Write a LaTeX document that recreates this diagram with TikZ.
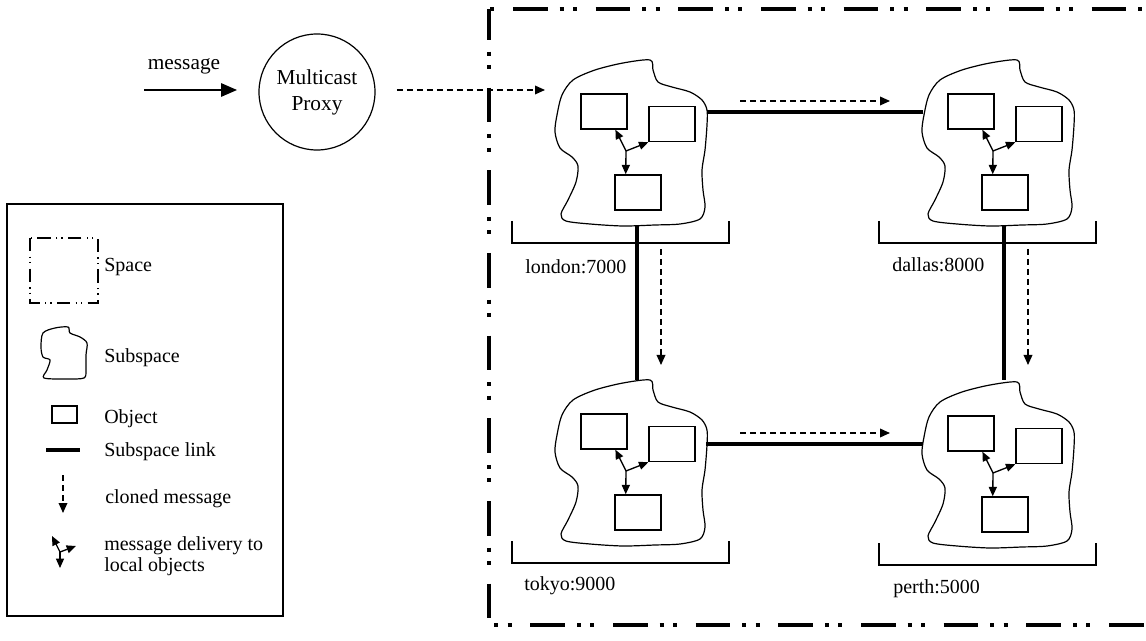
\documentclass[tikz,border=0pt]{standalone}
\usepackage{fontspec}
\setmainfont{Liberation Serif}
\usetikzlibrary{arrows.meta}
\newcommand\subsp[2]{%
\begin{scope}[shift={#2}]
  \draw[blobline] plot[smooth cycle, tension=0.5] coordinates {
    (650,60) (623,63) (595,70) (573,80) (562,95) (557,115) (555,132) (560,148)
    (572,157) (578,166) (576,182) (568,200) (561,214) (566,221) (590,224)
    (623,226) (655,225) (680,224) (700,219) (705,207) (703,190) (702,170)
    (705,150) (707,125) (707,110) (702,100) (690,92) (672,87) (658,82) (653,70)};
  \node[objbox] (#1a) at (604,111.5) {};
  \node[objbox] (#1b) at (672,124) {};
  \node[objbox] (#1c) at (638,192.5) {};
  \coordinate (#1j) at (626,151);
  \draw[deliver] (#1j) -- (#1a.-58);
  \draw[deliver] (#1j) -- (#1b.south west);
  \draw[deliver] (#1j) -- (#1c.124);
  \draw[bracket] (512,221) -- (512,243) -- (729,243) -- (729,221);
\end{scope}}
\begin{document}
\begin{tikzpicture}[x=0.75pt,y=-0.75pt,
  every node/.style={font=\fontsize{15}{18}\selectfont},
  spaceline/.style={line width=3.4pt, dash pattern=on 26pt off 9pt on 3pt off 7pt on 3pt off 14pt},
  iconspace/.style={line width=0.9pt, dash pattern=on 10pt off 4pt on 1pt off 3pt on 1pt off 4pt},
  blobline/.style={line width=0.9pt},
  bracket/.style={line width=1pt},
  objbox/.style={draw, line width=1.1pt, minimum width=34.5pt, minimum height=26.25pt, inner sep=0pt},
  sublink/.style={line width=2.7pt},
  clonearrow/.style={line width=1pt, dash pattern=on 4.5pt off 3pt, -{Triangle[length=7.5pt,width=6.5pt]}},
  deliver/.style={line width=1pt, -{Triangle[length=7pt,width=6pt]}},
  lbl/.style={anchor=west, inner sep=0pt},
]
\useasboundingbox (0,0) rectangle (1146,641);

% space border
\begin{scope}
  \clip (0,0) rectangle (1146,641);
  \draw[spaceline, dash phase=44pt] (489,9) -- (1170,9);
  \draw[spaceline, dash phase=3pt] (489,9) -- (489,625) -- (1170,625);
\end{scope}

% message + proxy
\node (msg) at (184,66) {\fontsize{16}{18}\selectfont message};
\coordinate (msgstart) at (144,90);
\node[circle, draw, line width=0.9pt, minimum size=87pt, inner sep=0pt,
      align=center, font=\fontsize{16}{19.5}\selectfont] (proxy) at (317,92) {Multicast\\Proxy};
\draw[line width=1.4pt, -{Triangle[length=12pt,width=10pt]}, shorten >=16pt] (msgstart) -- (proxy.west |- msgstart);
\coordinate (proxyout) at (545,90);
\draw[clonearrow, shorten <=16pt] (proxy.east |- proxyout) -- (proxyout);

% subspaces
\subsp{L}{(0,0)}
\subsp{D}{(367,0)}
\subsp{T}{(0,320)}
\subsp{P}{(367,322)}

% labels
\node[lbl] (Llbl) at (525,267) {london:7000};
\node[lbl] (Dlbl) at (892,265) {dallas:8000};
\node[lbl] (Tlbl) at (524,586) {tokyo:9000};
\node[lbl] (Plbl) at (893,589) {perth:5000};

% subspace links
\coordinate (Lr) at (707,112);
\coordinate (Dl) at (923,112);
\coordinate (Tr) at (706,444);
\coordinate (Pl) at (923,444);
\coordinate (Lbot) at (637,225);
\coordinate (Ttop) at (637,380);
\coordinate (Dbot) at (1004,225);
\coordinate (Ptop) at (1004,380);
\draw[sublink] (Lr) -- (Dl);
\draw[sublink] (Tr) -- (Pl);
\draw[sublink] (Lbot) -- (Ttop);
\draw[sublink] (Dbot) -- (Ptop);

% cloned messages
\coordinate (c1s) at (740,101); \coordinate (c1e) at (890,101);
\coordinate (c2s) at (740,433); \coordinate (c2e) at (890,433);
\coordinate (c3s) at (661,249); \coordinate (c3e) at (661,365);
\coordinate (c4s) at (1028,249); \coordinate (c4e) at (1028,365);
\draw[clonearrow] (c1s) -- (c1e);
\draw[clonearrow] (c2s) -- (c2e);
\draw[clonearrow] (c3s) -- (c3e);
\draw[clonearrow] (c4s) -- (c4e);

% legend
\draw[line width=1.1pt] (7,204) rectangle (283,616);
\draw[iconspace] (30,238) rectangle (98,303);
\node[lbl] (lgspace) at (104,267) {Space};
\draw[blobline] plot[smooth cycle, tension=0.5] coordinates {
  (43,333) (55,328) (68,327) (70,333) (80,337) (87,343) (86,355) (86,370)
  (84,378) (67,379) (44,378) (47,370) (50,360) (43,357) (41,347)};
\node[lbl] (lgsub) at (104,358) {Subspace};
\node[draw, line width=1.1pt, minimum width=18.75pt, minimum height=12.75pt, inner sep=0pt] (lgobjbox) at (64.5,414.5) {};
\node[lbl] (lgobj) at (104,419) {Object};
\coordinate (lglinka) at (46,450); \coordinate (lglinkb) at (80,450);
\draw[sublink] (lglinka) -- (lglinkb);
\node[lbl] (lglink) at (104,452) {Subspace link};
\coordinate (lgca) at (63,475); \coordinate (lgcb) at (63,513);
\draw[clonearrow] (lgca) -- (lgcb);
\node[lbl] (lgclone) at (105,499) {cloned message};
\coordinate (lgj) at (60,552);
\coordinate (lgd1) at (52,536); \coordinate (lgd2) at (76,546); \coordinate (lgd3) at (60,568);
\draw[deliver] (lgj) -- (lgd1);
\draw[deliver] (lgj) -- (lgd2);
\draw[deliver] (lgj) -- (lgd3);
\node[lbl, align=left, font=\fontsize{15}{16}\selectfont] (lgdel) at (104,556) {message delivery to\\local objects};
\end{tikzpicture}
\end{document}
